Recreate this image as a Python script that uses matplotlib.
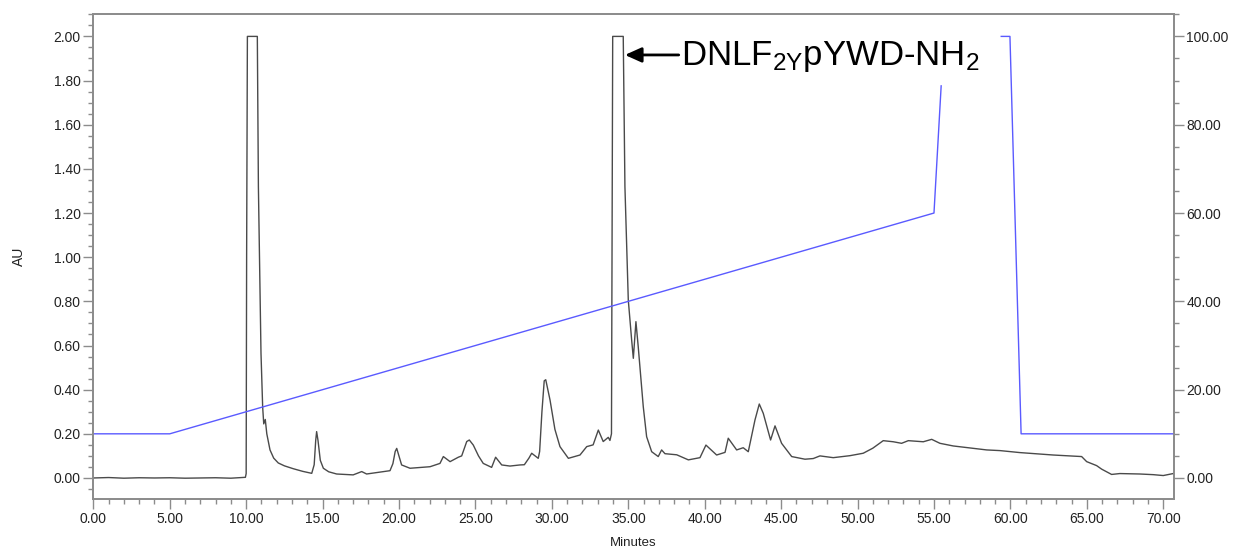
import numpy as np
import matplotlib
matplotlib.use("Agg")
import matplotlib.pyplot as plt
from matplotlib.ticker import MultipleLocator, FormatStrFormatter

plt.rcParams['font.family'] = ['Liberation Sans', 'DejaVu Sans']
plt.rcParams['mathtext.default'] = 'regular'

# Chromatogram trace (minutes, AU)
trace_t = [0.0, 1.0, 2.0, 3.0, 4.0, 5.0, 6.0, 7.0, 8.0, 9.0, 9.95, 10.0, 10.03, 10.08,
           10.73, 10.8, 10.97, 11.08, 11.15, 11.25, 11.35, 11.56, 11.8, 12.1, 12.5, 13.08, 13.7,
           14.29, 14.45, 14.55, 14.61, 14.7, 14.85, 15.05, 15.4, 15.92, 17.0, 17.56, 17.88,
           19.41, 19.6, 19.75, 19.85, 19.95, 20.17, 20.72,
           22.03, 22.68, 22.9, 23.34, 23.88, 24.1, 24.43, 24.6, 24.86, 25.2, 25.51, 26.06, 26.32,
           26.72, 27.26, 27.91, 28.2, 28.5, 28.68, 29.11, 29.2, 29.35, 29.5, 29.6, 29.88, 30.2,
           30.53, 31.08, 31.84, 32.28, 32.7, 33.04, 33.36, 33.69, 33.8, 33.9, 33.98, 34.67,
           34.78, 35.0, 35.22, 35.33, 35.5, 35.65, 35.98, 36.2, 36.53, 36.96, 37.18, 37.4,
           38.17, 38.93, 39.69, 40.08, 40.78, 41.33, 41.54, 42.09, 42.52, 42.85, 43.29, 43.57,
           43.83, 44.31, 44.6, 45.03, 45.69, 46.56, 47.1, 47.54, 48.41, 49.5, 50.37, 51.0,
           51.68, 52.34, 52.88, 53.32, 54.3, 54.85, 55.39, 56.26, 57.57, 58.45, 59.32, 60.62,
           62.8, 64.66, 64.99, 65.64, 65.97, 66.62, 67.16, 68.47, 69.35, 70.0, 70.65]
trace_au = [0.0, 0.002, -0.001, 0.001, 0.0, 0.001, -0.001, 0.0, 0.001, -0.001, 0.003, 0.02, 1.0, 2.0,
            2.0, 1.32, 0.565, 0.32, 0.245, 0.265, 0.2, 0.127, 0.09, 0.068, 0.055, 0.042, 0.03,
            0.021, 0.06, 0.17, 0.21, 0.17, 0.08, 0.044, 0.028, 0.018, 0.014, 0.029, 0.018,
            0.033, 0.065, 0.12, 0.134, 0.11, 0.059, 0.044,
            0.051, 0.066, 0.097, 0.074, 0.094, 0.1, 0.165, 0.172, 0.149, 0.1, 0.066, 0.048, 0.094,
            0.059, 0.054, 0.059, 0.06, 0.09, 0.112, 0.089, 0.12, 0.3, 0.44, 0.445, 0.353, 0.22,
            0.142, 0.089, 0.104, 0.142, 0.15, 0.217, 0.165, 0.184, 0.17, 0.2, 2.0, 2.0,
            1.32, 0.806, 0.625, 0.542, 0.708, 0.595, 0.323, 0.187, 0.119, 0.097, 0.127, 0.11,
            0.105, 0.082, 0.092, 0.149, 0.104, 0.116, 0.18, 0.127, 0.137, 0.119, 0.263, 0.335,
            0.293, 0.172, 0.236, 0.157, 0.097, 0.085, 0.088, 0.1, 0.092, 0.101, 0.112, 0.135,
            0.169, 0.164, 0.157, 0.169, 0.164, 0.175, 0.157, 0.145, 0.134, 0.127, 0.124, 0.115,
            0.104, 0.097, 0.074, 0.056, 0.04, 0.016, 0.02, 0.018, 0.015, 0.011, 0.02]

# Gradient (% B) on right axis
grad_t = [0.0, 5.0, 55.0, 55.47, np.nan, 59.4, 59.97, 60.7, 70.75]
grad_pct = [10.0, 10.0, 60.0, 88.8, np.nan, 100.0, 100.0, 10.0, 10.0]

label_text = r"DNLF$_{2Y}$pYWD-NH$_{2}$"

fig = plt.figure(figsize=(12.36, 5.53), dpi=100)
ax = fig.add_axes([0.0755, 0.0975, 0.9498 - 0.0755, 0.9745 - 0.0975])
ax2 = ax.twinx()

spine_col = '#8c8c8c'
ax.plot(trace_t, trace_au, color='#4a4a4a', lw=1.0, zorder=3)
ax2.plot(grad_t, grad_pct, color='#5a5aff', lw=1.0)

ax.set_xlim(0, 70.7)
ax.set_ylim(-0.0956, 2.101)
ax2.set_ylim(-4.78, 105.05)

ax.xaxis.set_major_locator(MultipleLocator(5))
ax.xaxis.set_minor_locator(MultipleLocator(1))
ax.yaxis.set_major_locator(MultipleLocator(0.2))
ax.yaxis.set_minor_locator(MultipleLocator(0.05))
ax2.yaxis.set_major_locator(MultipleLocator(20))
ax2.yaxis.set_minor_locator(MultipleLocator(5))
ax.xaxis.set_major_formatter(FormatStrFormatter('%.2f'))
ax.yaxis.set_major_formatter(FormatStrFormatter('%.2f'))
ax2.yaxis.set_major_formatter(FormatStrFormatter('%.2f'))

for a in (ax, ax2):
    for s in a.spines.values():
        s.set_color(spine_col)
        s.set_linewidth(1.3)
    a.tick_params(which='major', length=7, width=1.0, color=spine_col, labelsize=10,
                  labelcolor='#222222', pad=2)
    a.tick_params(which='minor', length=3.5, width=1.0, color=spine_col)

ax.set_xlabel('Minutes', fontsize=9.5, color='#222222', labelpad=8)
ax.set_ylabel('AU', fontsize=10, color='#222222', labelpad=20)

ax.annotate('', xy=(34.78, 1.916), xytext=(38.3, 1.916),
            arrowprops=dict(arrowstyle='-|>,head_length=1.0,head_width=0.45', color='black', lw=2.0,
                            shrinkA=0, shrinkB=0))
ax.text(38.45, 1.87, label_text, fontsize=25, color='black', va='baseline', ha='left')

fig.savefig('out.png', dpi=100)
